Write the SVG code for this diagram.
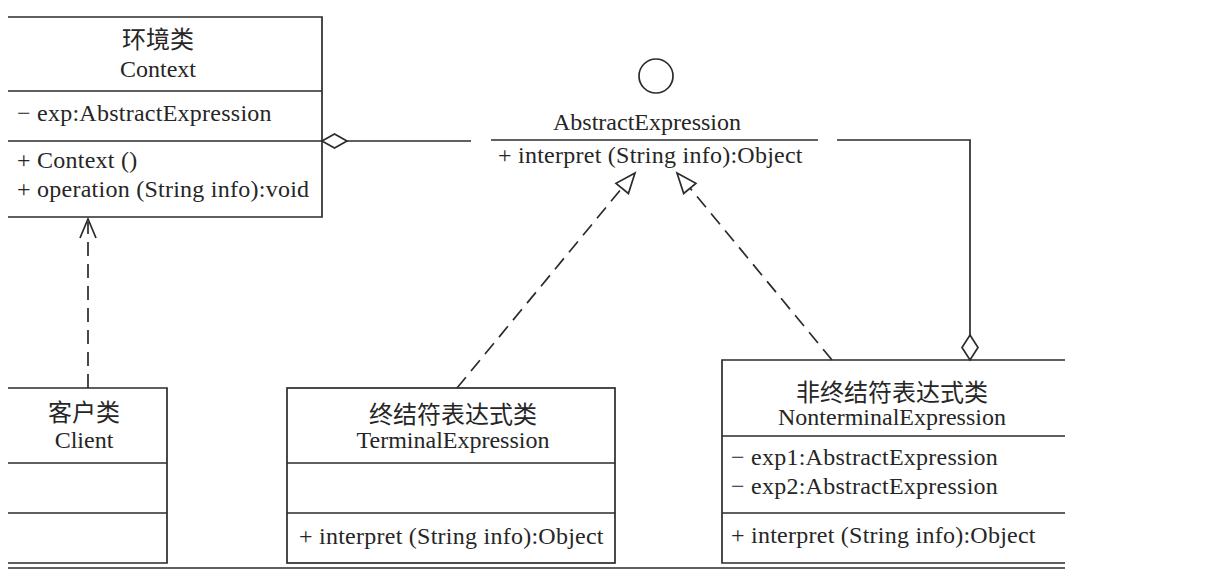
<svg xmlns="http://www.w3.org/2000/svg" width="1208" height="580" viewBox="0 0 1208 580">
<style>
.ln{stroke:#2b2b2b;stroke-width:1.7;fill:none}
.t{font-family:"Liberation Serif","Noto Sans CJK SC",serif;font-size:24px;fill:#262626;letter-spacing:0.25px}
.c{font-family:"Liberation Serif","Noto Sans CJK SC",serif;font-size:24px;fill:#262626;text-anchor:middle}
.d{stroke:#2b2b2b;stroke-width:1.7;fill:none;stroke-dasharray:14 8}
.h{stroke:#2b2b2b;stroke-width:1.7;fill:#fff}
</style>
<rect width="1208" height="580" fill="#fff"/>
<g id="context">
<path class="ln" d="M8,17H322V217H8M8,91H322M8,141H322"/>
<text class="c" x="158" y="48">环境类</text>
<text class="c" x="158" y="77">Context</text>
<text class="t" x="17" y="121">− exp:AbstractExpression</text>
<text class="t" x="17" y="168">+ Context ()</text>
<text class="t" x="17" y="197">+ operation (String info):void</text>
</g>
<g id="abstractExpression">
<circle class="ln" cx="656" cy="76" r="17"/>
<text class="c" x="647" y="130">AbstractExpression</text>
<path class="ln" d="M491,140H818"/>
<text class="t" x="498" y="163">+ interpret (String info):Object</text>
</g>
<g id="client">
<path class="ln" d="M8,388H167V563H8M8,463H167M8,513H167"/>
<text class="c" x="84" y="421">客户类</text>
<text class="c" x="84" y="448">Client</text>
</g>
<g id="terminalExpression">
<rect class="ln" x="287" y="388" width="328" height="175"/>
<path class="ln" d="M287,463H615M287,513H615"/>
<text class="c" x="453" y="423">终结符表达式类</text>
<text class="c" x="453" y="448">TerminalExpression</text>
<text class="t" x="299" y="544">+ interpret (String info):Object</text>
</g>
<g id="nonterminalExpression">
<path class="ln" d="M1065,360H722V563H1065M722,436H1065M722,513H1065"/>
<text class="c" x="892" y="401">非终结符表达式类</text>
<text class="c" x="892" y="425">NonterminalExpression</text>
<text class="t" x="731" y="465">− exp1:AbstractExpression</text>
<text class="t" x="731" y="494">− exp2:AbstractExpression</text>
<text class="t" x="731" y="543">+ interpret (String info):Object</text>
</g>
<g id="connectors">
<path class="ln" d="M347,141H471"/>
<path class="h" d="M322,141L334.5,134L347,141L334.5,148Z"/>
<path class="ln" d="M837,140H970V335"/>
<path class="h" d="M970,335L978,347.5L970,360L962,347.5Z"/>
<path class="d" d="M88,388V222"/>
<path class="ln" d="M80,238L88,219L96,238"/>
<path class="d" d="M457,388L622,188"/>
<path class="h" d="M635,173L628.4,193.5L616,183.3Z"/>
<path class="d" d="M832,360L690,188"/>
<path class="h" d="M677,173L695.9,183.3L683.7,193.5Z"/>
<path class="ln" d="M8,568H1065" stroke-width="2"/>
</g>
</svg>
